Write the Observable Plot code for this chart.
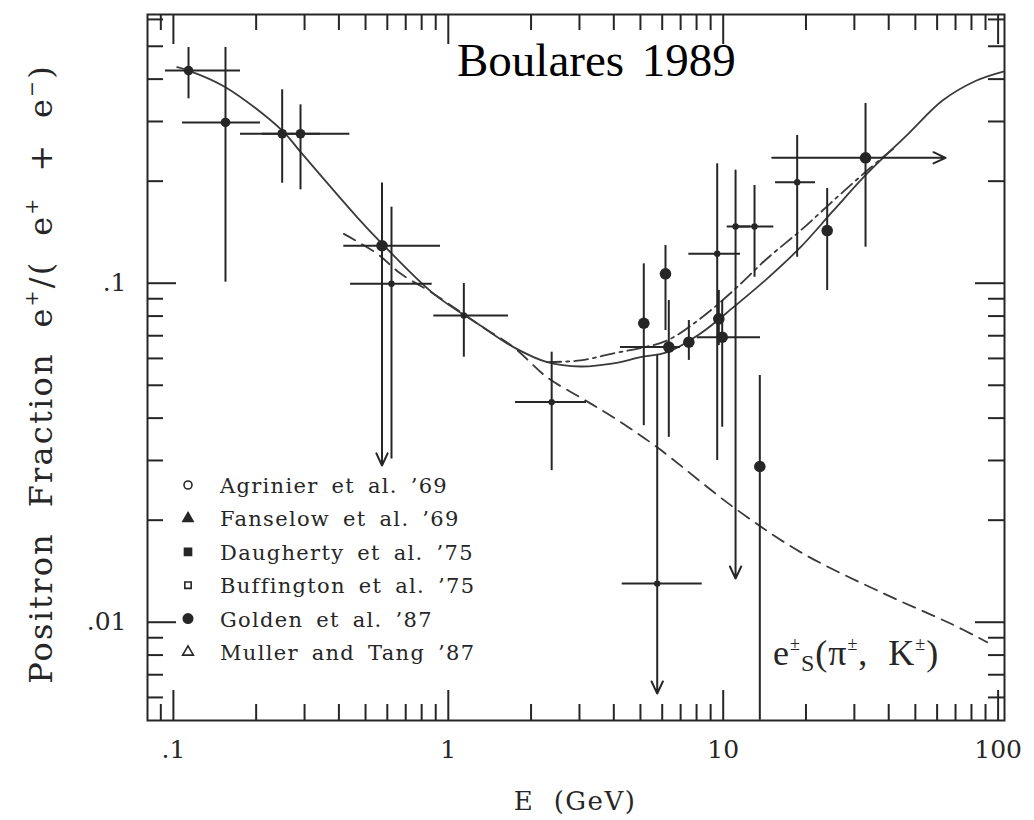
<!DOCTYPE html>
<html><head><meta charset="utf-8">
<script src="https://cdn.jsdelivr.net/npm/d3@7"></script>
<script src="https://cdn.jsdelivr.net/npm/@observablehq/plot@0.6"></script>
<style>body{margin:0;background:#fff;} #chart svg{display:block}</style>
</head><body><div id="chart"></div>
<script>
// ---- data ----
const pointE  = [0.1135, 0.1547, 0.2487, 0.2900, 0.5739, 0.6214, 1.139, 2.377, 5.142, 6.167, 5.754, 6.340, 7.499, 9.638, 9.917, 9.510, 11.09, 13.00, 18.58, 32.94, 23.89, 13.59];
const pointF  = [0.424, 0.298, 0.276, 0.276, 0.129, 0.0996, 0.0803, 0.0446, 0.0762, 0.1066, 0.0130, 0.0648, 0.0670, 0.0785, 0.0693, 0.1221, 0.147, 0.147, 0.1986, 0.2344, 0.143, 0.0288];
const pointElo = [0.0936, 0.1079, 0.1754, 0.2109, 0.4168, 0.441, 0.8857, 1.7555, null, null, 4.292, 4.231, null, null, 8.044, 7.499, 10.34, 11.09, 15.50, 15.08, null, null];
const pointEhi = [0.1754, 0.2074, 0.3428, 0.4384, 0.9368, 0.8738, 1.6556, 3.182, null, null, 8.388, 6.995, null, null, 13.67, 11.56, 12.57, 15.28, 21.66, 64.4, null, null];
const pointFhi = [0.4958, 0.4958, 0.372, 0.3359, 0.1972, 0.1676, 0.0998, 0.0626, 0.1141, 0.1292, 0.0612, 0.0889, 0.0776, 0.0952, 0.0889, 0.225, 0.215, 0.1942, 0.2727, 0.3389, 0.1903, 0.0534];
const pointFlo = [0.3499, 0.1007, 0.1972, 0.1886, 0.0290, 0.0303, 0.0605, 0.0280, 0.0380, 0.0725, 0.00616, 0.0351, 0.0592, 0.0655, 0.0376, 0.0300, 0.01345, 0.1041, 0.1193, 0.1277, 0.0952, 0.00514];
const pointUpperLimit = [false,false,false,false,true,false,false,false,false,false,true,false,false,false,false,false,true,false,false,false,false,false];
const pointLowerEnergyLimit = [false,false,false,false,false,false,false,false,false,false,false,false,false,false,false,false,false,false,false,true,false,false];
const pointSource = ["Fanselow","Fanselow","Fanselow","Fanselow","Golden","Daugherty","Daugherty","Agrinier","Golden","Golden","Buffington","Golden","Golden","Golden","Golden","Muller","Buffington","Muller","Muller","Golden","Golden","Golden"];

const solidE = [0.1032,0.1135,0.1547,0.2487,0.2900,0.4663,0.5748,0.8857,1.309,1.726,2.290,3.027,3.990,5.003,6.256,8.267,10.90,14.45,19.11,25.19,33.41,47.22,62.78,83.44,104.5];
const solidF = [0.4337,0.4240,0.3787,0.2821,0.2440,0.1565,0.1307,0.0930,0.0750,0.0648,0.0585,0.0568,0.0580,0.0605,0.0626,0.0711,0.0850,0.1032,0.1277,0.1639,0.2107,0.2764,0.3458,0.3962,0.4212];
const dashdotE = [2.290, 3.027, 3.990, 5.003, 6.256, 8.267, 10.90, 14.45, 19.11, 25.19, 33.41, 41.65];
const dashdotF = [0.0585, 0.0592, 0.0621, 0.0644, 0.0678, 0.0787, 0.0952, 0.1183, 0.1430, 0.1754, 0.2150, 0.2496];
const dashedE = [0.4169, 0.5513, 0.6701, 0.8857, 1.309, 1.726, 2.292, 3.027, 3.990, 5.753, 10.93, 19.11, 38.30, 67.13, 91.28];
const dashedF = [0.1398, 0.1221, 0.1068, 0.0930, 0.0750, 0.0648, 0.0527, 0.0460, 0.0402, 0.0328, 0.0218, 0.0161, 0.01216, 0.00991, 0.00873];

const xMajor = [0.1, 1, 10, 100];
const xMajorLabels = [".1", "1", "10", "100"];
const xMinor = [0.09, 0.2,0.3,0.4,0.5,0.6,0.7,0.8,0.9, 2,3,4,5,6,7,8,9, 20,30,40,50,60,70,80,90];
const yMajor = [0.01, 0.1];
const yMajorLabels = [".01", ".1"];
const yMinor = [0.006,0.007,0.008,0.009, 0.02,0.03,0.04,0.05,0.06,0.07,0.08,0.09, 0.2,0.3,0.4,0.5,0.6];

const legendNames = ["Agrinier et al. ’69","Fanselow et al. ’69","Daugherty et al. ’75","Buffington et al. ’75","Golden et al. ’87","Muller and Tang ’87"];
const legendSymbols = ["circle-open","triangle","square","square-open","circle","triangle-open"];
const titleText = "Boulares 1989";
const xLabel = "E  (GeV)";

// ---- build ----
const points = pointE.map((e, i) => ({E: e, F: pointF[i], Elo: pointElo[i], Ehi: pointEhi[i], Flo: pointFlo[i], Fhi: pointFhi[i], ul: pointUpperLimit[i], rl: pointLowerEnergyLimit[i], src: pointSource[i]}));
const solid = solidE.map((e, i) => ({E: e, F: solidF[i]}));
const dashdot = dashdotE.map((e, i) => ({E: e, F: dashdotF[i]}));
const dashed = dashedE.map((e, i) => ({E: e, F: dashedF[i]}));
const radius = {Golden: 5.8, Fanselow: 4.8, Daugherty: 3.2, Agrinier: 3.2, Buffington: 3.2, Muller: 3.2};

const W = 1034, H = 820, mL = 147, mR = 30, mT = 14, mB = 100;
const innerW = W - mL - mR, innerH = H - mT - mB;
const ink = "#262626";

const dotMarks = Object.keys(radius).map(src =>
  Plot.dot(points.filter(d => d.src === src), {x: "E", y: "F", r: radius[src], fill: ink, stroke: "none"}));

const chart = Plot.plot({
  width: W, height: H,
  marginLeft: mL, marginRight: mR, marginTop: mT, marginBottom: mB,
  x: {type: "log", domain: [0.0805, 105.5], axis: null},
  y: {type: "log", domain: [0.00513, 0.6204], axis: null},
  style: {fontFamily: "DejaVu Serif", background: "#fff", color: ink},
  marks: [
    Plot.frame({stroke: ink, strokeWidth: 2}),
    // ticks (inward)
    Plot.tickX(xMajor, {x: d => d, insetTop: innerH - 30, stroke: ink, strokeWidth: 2}),
    Plot.tickX(xMajor, {x: d => d, insetBottom: innerH - 30, stroke: ink, strokeWidth: 2}),
    Plot.tickX(xMinor, {x: d => d, insetTop: innerH - 16, stroke: ink, strokeWidth: 2}),
    Plot.tickX(xMinor, {x: d => d, insetBottom: innerH - 16, stroke: ink, strokeWidth: 2}),
    Plot.tickY(yMajor, {y: d => d, insetRight: innerW - 29, stroke: ink, strokeWidth: 2}),
    Plot.tickY(yMajor, {y: d => d, insetLeft: innerW - 29, stroke: ink, strokeWidth: 2}),
    Plot.tickY(yMinor, {y: d => d, insetRight: innerW - 16, stroke: ink, strokeWidth: 2}),
    Plot.tickY(yMinor, {y: d => d, insetLeft: innerW - 16, stroke: ink, strokeWidth: 2}),
    // tick labels
    Plot.text(xMajor, {x: d => d, text: (d, i) => xMajorLabels[i], frameAnchor: "bottom", dy: 37, fontSize: 25, fill: ink}),
    Plot.text(yMajor, {y: d => d, text: (d, i) => yMajorLabels[i], frameAnchor: "left", textAnchor: "end", dx: -21, fontSize: 25, fill: ink}),
    // model curves
    Plot.line(solid, {x: "E", y: "F", curve: "catmull-rom", stroke: "#3a3a3a", strokeWidth: 1.8}),
    Plot.line(dashdot, {x: "E", y: "F", curve: "catmull-rom", stroke: "#3a3a3a", strokeWidth: 1.8, strokeDasharray: "14,5,3,5"}),
    Plot.line(dashed, {x: "E", y: "F", curve: "catmull-rom", stroke: "#3a3a3a", strokeWidth: 1.8, strokeDasharray: "13,8"}),
    // error bars
    Plot.ruleX(points.filter(d => !d.ul), {x: "E", y1: "Flo", y2: "Fhi", stroke: ink, strokeWidth: 2}),
    Plot.arrow(points.filter(d => d.ul), {x1: "E", x2: "E", y1: "Fhi", y2: "Flo", stroke: ink, strokeWidth: 2, headLength: 10, headAngle: 50}),
    Plot.ruleY(points.filter(d => d.Elo != null && !d.rl), {y: "F", x1: "Elo", x2: "Ehi", stroke: ink, strokeWidth: 2}),
    Plot.arrow(points.filter(d => d.rl), {y1: "F", y2: "F", x1: "Elo", x2: "Ehi", stroke: ink, strokeWidth: 2, headLength: 10, headAngle: 50}),
    // points
    ...dotMarks
  ]
});
document.getElementById("chart").appendChild(chart);

// ---- annotations ----
const svg = d3.select(chart);
const serifBig = "Liberation Serif";

svg.append("text").attr("x", 457).attr("y", 76).attr("text-anchor", "start")
  .attr("font-family", serifBig).attr("font-size", 47).attr("word-spacing", 6).attr("fill", "#000").text(titleText);

// y-axis title
const yt = svg.append("text").attr("transform", "translate(52,374) rotate(-90)")
  .attr("text-anchor", "middle").attr("font-family", "DejaVu Serif").attr("font-size", 32)
  .attr("fill", ink).attr("letter-spacing", 2.2);
yt.append("tspan").text("Positron  Fraction  e");
yt.append("tspan").attr("dy", -14).attr("font-size", 19).text("+");
yt.append("tspan").attr("dy", 14).text("/(  e");
yt.append("tspan").attr("dy", -14).attr("font-size", 19).text("+");
yt.append("tspan").attr("dy", 14).text("  +  e");
yt.append("tspan").attr("dy", -14).attr("font-size", 19).text("−");
yt.append("tspan").attr("dy", 14).text(")");

// x-axis title
svg.append("text").attr("x", 575).attr("y", 810).attr("text-anchor", "middle")
  .attr("font-family", "DejaVu Serif").attr("font-size", 26).attr("letter-spacing", 1.5)
  .attr("fill", ink).attr("xml:space", "preserve").style("white-space", "pre").text(xLabel);

// curve label e±s(π±, K±)
const lab = svg.append("text").attr("x", 773).attr("y", 665).attr("text-anchor", "start")
  .attr("font-family", serifBig).attr("font-size", 36).attr("letter-spacing", 1).attr("fill", ink);
lab.append("tspan").text("e");
lab.append("tspan").attr("dy", -15).attr("font-size", 18).text("±");
lab.append("tspan").attr("dy", 21).attr("font-size", 24).text("S");
lab.append("tspan").attr("dy", -6).text("(π");
lab.append("tspan").attr("dy", -15).attr("font-size", 18).text("±");
lab.append("tspan").attr("dy", 15).text(",  K");
lab.append("tspan").attr("dy", -15).attr("font-size", 18).text("±");
lab.append("tspan").attr("dy", 15).text(")");

// legend
const symMap = {
  "circle-open": [d3.symbolCircle, false, 50],
  "triangle": [d3.symbolTriangle, true, 45],
  "square": [d3.symbolSquare, true, 50],
  "square-open": [d3.symbolSquare, false, 40],
  "circle": [d3.symbolCircle, true, 70],
  "triangle-open": [d3.symbolTriangle, false, 50]
};
const lg = svg.append("g");
legendNames.forEach((name, i) => {
  const y = 485 + i * 33.4;
  const [type, filled, size] = symMap[legendSymbols[i]];
  lg.append("path").attr("d", d3.symbol(type, size)())
    .attr("transform", `translate(188,${y})`)
    .attr("fill", filled ? ink : "none").attr("stroke", ink).attr("stroke-width", 1.6);
  lg.append("text").attr("x", 220).attr("y", y + 8).attr("text-anchor", "start")
    .attr("font-family", "DejaVu Serif").attr("font-size", 21).attr("letter-spacing", 1.3)
    .attr("word-spacing", 5).attr("fill", ink).text(name);
});
</script>
</body></html>
